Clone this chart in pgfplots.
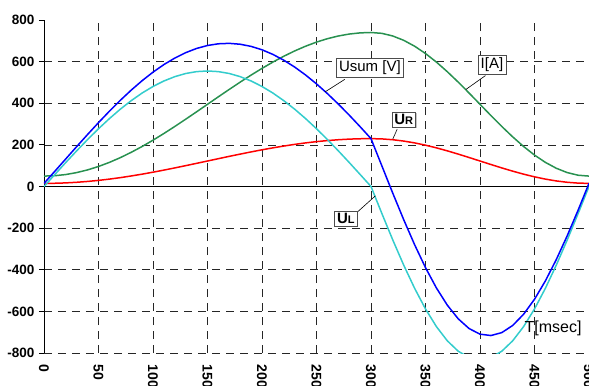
\documentclass[border=0pt]{standalone}
\usepackage{fontspec}
\setmainfont{Liberation Sans}
\usepackage{pgfplots}
\pgfplotsset{compat=1.18}
\usetikzlibrary{shadows}
\definecolor{cblue}{RGB}{0,0,255}
\definecolor{ccyan}{RGB}{51,204,204}
\definecolor{cgreen}{RGB}{40,145,80}
\definecolor{cred}{RGB}{255,0,0}
\begin{document}
\begin{tikzpicture}[callout/.style={draw=black!70, fill=white, inner sep=2.5pt, drop shadow={shadow xshift=1pt, shadow yshift=-1pt, fill=black!45}, font=\fontsize{15}{17}\selectfont}]
\begin{axis}[name=ax, scale only axis, width=545pt, height=333pt,
  xmin=0, xmax=500, ymin=-800, ymax=800,
  axis x line*=bottom, axis y line*=left,
  x axis line style={draw=none},
  y axis line style={line width=0.9pt},
  xtick={0,50,...,500}, xticklabels={0,50,100,150,200,250,300,350,400,450,500},
  ytick={-800,-600,...,600}, yticklabels={-800,-600,-400,-200,0,200,400,600},
  extra y ticks={800}, extra y tick labels={800}, extra y tick style={grid=none},
  xtick style={draw=none}, ytick style={line width=0.8pt, black},
  tick align=outside, major tick length=5pt,
  grid=major, major grid style={black!85, line width=0.6pt, dash pattern=on 8pt off 6pt},
  tick label style={font=\fontsize{13.5}{15}\selectfont\bfseries},
  xticklabel style={rotate=-90, anchor=west, font=\fontsize{14}{15}\selectfont\bfseries},
  xticklabel shift=3pt,
  yticklabel style={xshift=-1pt},
  every axis plot/.append style={line width=1.5pt}
]
\draw[black, line width=0.9pt] (axis cs:0,0) -- (axis cs:500,0);
% I [A]
\addplot[cgreen] coordinates {
(0,50)(10,51.9)(20,57.5)(30,66.9)(40,79.8)(50,96.2)(60,115.9)(70,138.6)(80,164.2)(90,192.2)
(100,222.5)(110,254.7)(120,288.4)(130,323.3)(140,358.9)(150,395)(160,431.1)(170,466.7)(180,501.6)(190,535.3)
(200,567.5)(210,597.8)(220,625.9)(230,651.4)(240,674.1)(250,693.8)(260,710.2)(270,723.1)(280,732.5)(290,738.1)
(300,740)(310,735.8)(320,723.1)(330,702.4)(340,674.1)(350,638.9)(360,597.8)(370,551.6)(380,501.6)(390,449.0)
(400,395)(410,341.0)(420,288.4)(430,238.4)(440,192.2)(450,151.0)(460,115.9)(470,87.6)(480,66.9)(490,54.2)(500,50)};
% UR
\addplot[cred] coordinates {
(0,15)(10,15.6)(20,17.3)(30,20.3)(40,24.3)(50,29.4)(60,35.5)(70,42.6)(80,50.6)(90,59.3)
(100,68.8)(110,78.8)(120,89.3)(130,100.2)(140,111.3)(150,122.5)(160,133.7)(170,144.9)(180,155.7)(190,166.2)
(200,176.3)(210,185.7)(220,194.4)(230,202.4)(240,209.5)(250,215.6)(260,220.7)(270,224.7)(280,227.7)(290,229.4)
(300,230)(310,228.7)(320,224.7)(330,218.3)(340,209.5)(350,198.5)(360,185.7)(370,171.3)(380,155.7)(390,139.3)
(400,122.5)(410,105.7)(420,89.3)(430,73.7)(440,59.3)(450,46.5)(460,35.5)(470,26.7)(480,20.3)(490,16.3)(500,15)};
% UL
\addplot[ccyan] coordinates {
(0,0)(10,58.0)(20,115.4)(30,171.5)(40,225.7)(50,277.5)(60,326.2)(70,371.4)(80,412.4)(90,449.0)
(100,480.6)(110,507.0)(120,527.8)(130,542.9)(140,552.0)(150,555)(160,552.0)(170,542.9)(180,527.8)(190,507.0)
(200,480.6)(210,449.0)(220,412.4)(230,371.4)(240,326.2)(250,277.5)(260,225.7)(270,171.5)(280,115.4)(290,58.0)
(300,0)(310,-130.1)(320,-257.1)(330,-377.7)(340,-489.0)(350,-588.3)(360,-673.1)(370,-741.3)(380,-791.3)(390,-821.8)
(400,-832)(410,-821.8)(420,-791.3)(430,-741.3)(440,-673.1)(450,-588.3)(460,-489.0)(470,-377.7)(480,-257.1)(490,-130.1)(500,0)};
% Usum
\addplot[cblue] coordinates {
(0,15)(10,73.6)(20,132.7)(30,191.8)(40,250.0)(50,306.9)(60,361.7)(70,414.0)(80,463.0)(90,508.3)
(100,549.4)(110,585.8)(120,617.1)(130,643.1)(140,663.3)(150,677.5)(160,685.7)(170,687.8)(180,683.5)(190,673.2)
(200,656.9)(210,634.7)(220,606.8)(230,573.8)(240,535.7)(250,493.1)(260,446.4)(270,396.2)(280,343.1)(290,287.4)
(300,230)(310,98.6)(320,-32.4)(330,-159.4)(340,-279.5)(350,-389.8)(360,-487.4)(370,-570.0)(380,-635.6)(390,-682.5)
(400,-709.5)(410,-716.1)(420,-702.0)(430,-667.6)(440,-613.8)(450,-541.8)(460,-453.5)(470,-351.0)(480,-236.8)(490,-113.8)(500,15)};
% callouts
\draw[black, line width=0.6pt] (axis cs:276,515) -- (axis cs:258,455);
\node[callout] at (axis cs:299,572) {Usum [V]};
\draw[black, line width=0.6pt] (axis cs:405,533) -- (axis cs:387,466);
\node[callout] at (axis cs:411,586) {I[A]};
\draw[black, line width=0.6pt] (axis cs:324,275) -- (axis cs:320,228);
\node[callout] at (axis cs:330,322) {\bfseries U\fontsize{11}{13}\selectfont R};
\draw[black, line width=0.6pt] (axis cs:287,-125) -- (axis cs:304,-45);
\node[callout] at (axis cs:277,-154) {\bfseries U\fontsize{11}{13}\selectfont L};
\node[font=\fontsize{16}{18}\selectfont] at (axis cs:467,-682) {T[msec]};
\end{axis}
\pgfresetboundingbox
\path[use as bounding box] ([xshift=-44pt,yshift=-32pt]ax.south west) rectangle ([yshift=20pt]ax.north east);
\end{tikzpicture}
\end{document}
